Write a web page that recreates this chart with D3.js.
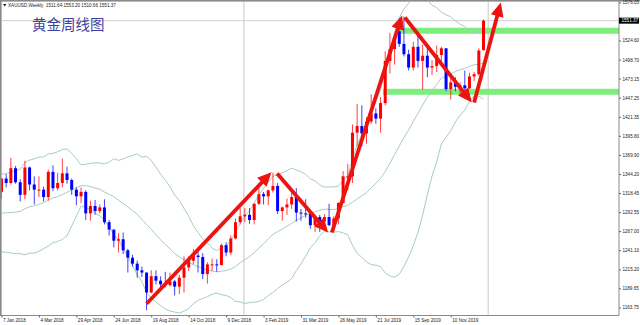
<!DOCTYPE html>
<html><head><meta charset="utf-8">
<script src="https://cdn.jsdelivr.net/npm/d3@7"></script>
<style>html,body{margin:0;padding:0;background:#fff;} svg{display:block;}</style>
</head><body><svg id="c" width="640" height="325"></svg>
<script>
// weekly XAUUSD candles, index 0 = week of 7 Jan 2018 ... index 103 = week of 29 Dec 2019
const opens  = [1320,1338,1332,1352,1333,1316,1353,1330,1322,1323,1313,1347,1325,1332,1345,1336,1323,1314,1320,1291,1301,1294,1299,1279,1269,1254,1256,1241,1231,1223,1214,1211,1184,1206,1200,1195,1194,1199,1192,1204,1218,1227,1234,1232,1209,1221,1222,1221,1248,1238,1257,1279,1287,1289,1282,1304,1317,1314,1322,1328,1294,1299,1303,1313,1292,1291,1290,1275,1286,1280,1286,1275,1284,1305,1341,1341,1400,1409,1399,1415,1426,1419,1440,1497,1513,1537,1520,1506,1488,1516,1497,1504,1488,1490,1505,1514,1459,1468,1462,1464,1460,1476,1479,1511.64];
const highs  = [1338,1344,1366,1355,1337,1362,1354,1341,1341,1327,1350,1356,1346,1365,1354,1338,1326,1326,1322,1308,1309,1303,1310,1282,1269,1264,1265,1243,1235,1227,1219,1211,1214,1214,1206,1212,1211,1201,1208,1233,1233,1243,1243,1237,1225,1230,1229,1250,1252,1261,1284,1298,1298,1298,1304,1326,1320,1323,1346,1332,1300,1311,1320,1325,1297,1310,1292,1289,1289,1290,1304,1287,1306,1348,1358,1411,1439,1437,1421,1452,1433,1448,1510,1535,1531,1555,1557,1512,1523,1535,1519,1516,1498,1518,1516,1514,1474,1475,1468,1484,1481,1482,1514,1553.20];
const lows   = [1311,1326,1330,1331,1307,1310,1322,1303,1313,1307,1308,1321,1322,1326,1331,1316,1302,1305,1282,1281,1289,1291,1276,1261,1245,1238,1236,1211,1219,1204,1205,1160,1183,1195,1189,1191,1192,1180,1182,1184,1213,1222,1211,1202,1196,1213,1212,1221,1233,1235,1256,1276,1279,1277,1276,1302,1303,1302,1319,1290,1281,1289,1297,1280,1281,1285,1270,1266,1266,1278,1274,1268,1276,1305,1322,1332,1382,1381,1385,1412,1412,1400,1437,1480,1492,1516,1503,1484,1484,1488,1458,1475,1478,1482,1491,1456,1445,1456,1452,1458,1459,1470,1477,1510.66];
const closes = [1338,1332,1352,1333,1316,1353,1330,1323,1323,1313,1347,1325,1332,1345,1336,1323,1314,1320,1291,1301,1294,1299,1279,1269,1254,1256,1241,1231,1223,1214,1211,1184,1206,1200,1195,1194,1199,1192,1204,1218,1227,1234,1232,1209,1222,1222,1221,1248,1238,1257,1279,1287,1289,1282,1304,1317,1314,1322,1328,1294,1299,1303,1313,1292,1291,1290,1275,1286,1280,1286,1275,1284,1305,1341,1341,1400,1409,1399,1415,1426,1419,1440,1497,1513,1527,1520,1506,1488,1516,1497,1504,1488,1490,1505,1514,1459,1468,1462,1464,1460,1476,1479,1511,1551.37];

// Bollinger bands (20)
const bbUpper  = [1343.7,1345.0,1346.6,1348.9,1350.7,1359.5,1362.9,1364.7,1366.8,1367.3,1371.4,1372.1,1374.1,1377.2,1378.1,1372.0,1364.7,1356.4,1357.4,1358.6,1359.2,1359.2,1358.0,1360.2,1364.9,1362.5,1364.6,1367.2,1369.0,1371.3,1366.9,1367.9,1362.6,1353.2,1344.1,1335.7,1327.1,1315.7,1308.4,1297.6,1287.3,1274.3,1265.2,1256.3,1250.9,1244.1,1240.6,1244.5,1246.9,1254.1,1266.2,1277.1,1287.5,1294.5,1304.8,1316.1,1324.8,1332.7,1341.0,1343.2,1345.8,1348.7,1352.1,1349.5,1347.3,1343.6,1337.4,1335.0,1329.4,1326.4,1326.7,1326.8,1327.6,1335.3,1341.4,1364.1,1384.2,1397.5,1412.6,1429.3,1442.1,1457.7,1484.7,1510.9,1535.9,1555.2,1567.5,1574.9,1583.5,1586.6,1585.6,1579.3,1572.2,1569.1,1562.7,1559.4,1556.5,1550.9,1546.6,1543.4,1537.3,1533.8,1535.3,1543.6];
const bbMiddle = [1291.4,1291.7,1292.0,1292.7,1293.6,1297.3,1300.1,1301.1,1303.2,1305.3,1309.2,1311.7,1313.6,1316.5,1319.3,1323.0,1325.9,1328.6,1328.3,1327.4,1325.2,1323.5,1319.9,1316.7,1313.6,1308.7,1304.3,1299.7,1294.7,1289.7,1282.9,1275.9,1269.6,1262.3,1255.3,1248.8,1243.1,1236.7,1232.3,1228.2,1224.8,1221.6,1219.2,1216.2,1214.6,1212.9,1211.9,1212.8,1213.5,1215.7,1219.1,1224.2,1228.4,1232.5,1237.9,1244.1,1249.8,1256.3,1262.5,1266.3,1269.9,1273.4,1277.4,1281.6,1285.0,1288.4,1291.1,1293.0,1295.1,1296.6,1296.4,1296.2,1297.0,1300.0,1301.8,1306.0,1310.7,1314.6,1318.9,1325.5,1331.5,1338.4,1347.6,1358.6,1370.4,1381.9,1393.5,1403.6,1415.4,1425.9,1437.4,1447.6,1456.8,1465.0,1473.7,1476.6,1479.6,1482.7,1485.2,1486.9,1489.7,1491.7,1492.4,1494.3];
const bbLower  = [1239.0,1238.4,1237.4,1236.4,1236.5,1235.0,1237.2,1237.4,1239.6,1243.2,1246.9,1251.3,1253.1,1255.7,1260.4,1274.0,1287.0,1300.7,1299.2,1296.1,1291.1,1287.8,1281.7,1273.1,1262.2,1254.9,1243.9,1232.1,1220.3,1208.1,1198.9,1183.8,1176.5,1171.4,1166.4,1161.9,1159.0,1157.6,1156.2,1158.7,1162.3,1168.8,1173.2,1176.1,1178.3,1181.7,1183.2,1181.0,1180.1,1177.2,1171.9,1171.3,1169.2,1170.4,1171.0,1172.0,1174.8,1179.9,1184.0,1189.4,1194.0,1198.0,1202.7,1213.6,1222.7,1233.2,1244.8,1251.0,1260.8,1266.7,1266.0,1265.6,1266.4,1264.6,1262.2,1247.8,1237.2,1231.6,1225.2,1221.7,1220.9,1219.0,1210.4,1206.3,1204.9,1208.6,1219.4,1232.2,1247.2,1265.2,1289.1,1315.8,1341.4,1360.9,1384.6,1393.8,1402.6,1414.5,1423.7,1430.3,1442.1,1449.5,1449.4,1444.9];

const dateTickIdx = [0,8,16,24,32,40,48,56,64,72,80,88,96];
const dateLabels = ["7 Jan 2018","4 Mar 2018","29 Apr 2018","24 Jun 2018","19 Aug 2018","14 Oct 2018","9 Dec 2018","3 Feb 2019","31 Mar 2019","26 May 2019","21 Jul 2019","15 Sep 2019","10 Nov 2019"];
const priceTicks = [1576.05,1524.60,1498.70,1473.15,1447.25,1421.35,1395.80,1369.90,1344.20,1318.45,1292.55,1267.00,1241.10,1215.20,1189.65,1163.75];
const lastPrice = 1551.37;
const headerText = "XAUUSD,Weekly  1511.64 1553.20 1510.66 1551.37";
const titleText = "黄金周线图";

// support / resistance zones: start week index, price range
const zoneStart = [85.1, 81.5];
const zoneLow   = [1533.7, 1451.2];
const zoneHigh  = [1541.8, 1459.3];

// trend arrows: [week index, price] from -> to
const arrowFrom = [[31.0,1168.8],[58.9,1344.9],[70.6,1265.1],[86.2,1555.7],[101.0,1440.8]];
const arrowTo   = [[57.7,1346.6],[69.8,1265.1],[85.6,1558.4],[100.5,1440.8],[106.7,1576.0]];

const separators = [51.8, 104.0];

// ---------------------------------------------------------------
const W = 640, H = 325;
const plotL = 2, plotR = 619, plotT = 2, plotB = 315.5;
const svg = d3.select("#c");
svg.append("rect").attr("width",W).attr("height",H).attr("fill","#fff");

const x = d3.scaleLinear().domain([0,103]).range([1.5,483.5]);
const y = d3.scaleLinear().domain([1163.75,1576.05]).range([307.5,2.4]);

svg.append("clipPath").attr("id","clip").append("rect")
  .attr("x",0).attr("y",plotT).attr("width",plotR).attr("height",plotB-plotT);
const plot = svg.append("g").attr("clip-path","url(#clip)");

// separators and last-price line
plot.selectAll("line.sep").data(separators).join("line")
  .attr("x1",d=>x(d)).attr("x2",d=>x(d)).attr("y1",plotT).attr("y2",plotB)
  .attr("stroke","#c8c8c8").attr("stroke-width",1);
plot.append("line").attr("x1",plotL).attr("x2",plotR)
  .attr("y1",y(lastPrice)).attr("y2",y(lastPrice))
  .attr("stroke","#cfcfcf").attr("stroke-width",1);

// zones
plot.selectAll("rect.zone").data(zoneStart).join("rect")
  .attr("x",d=>x(d)).attr("width",d=>plotR - x(d))
  .attr("y",(d,i)=>y(zoneHigh[i])).attr("height",(d,i)=>y(zoneLow[i])-y(zoneHigh[i]))
  .attr("fill","#7ded7d");

// Bollinger bands
const line = arr => d3.line().x((d,i)=>x(i)).y(d=>y(d))(arr);
[bbUpper,bbMiddle,bbLower].forEach(arr=>{
  plot.append("path").attr("d",line(arr)).attr("fill","none")
    .attr("stroke","#a9cbbf").attr("stroke-width",1);
});

// candles
const idx = d3.range(opens.length);
const col = i => closes[i] >= opens[i] ? "#ff0000" : "#0000ff";
plot.selectAll("line.wick").data(idx).join("line")
  .attr("x1",i=>x(i)).attr("x2",i=>x(i))
  .attr("y1",i=>y(highs[i])).attr("y2",i=>y(lows[i]))
  .attr("stroke",col).attr("stroke-width",1).attr("stroke-opacity",0.75);
plot.selectAll("rect.body").data(idx).join("rect")
  .attr("x",i=>x(i)-1.5).attr("width",3)
  .attr("y",i=>y(Math.max(opens[i],closes[i])))
  .attr("height",i=>Math.max(1,Math.abs(y(opens[i])-y(closes[i]))))
  .attr("fill",col);

// frame
svg.append("rect").attr("x",0).attr("y",0).attr("width",W).attr("height",1.6).attr("fill","#8a8a8a");
svg.append("rect").attr("x",0).attr("y",0).attr("width",1.6).attr("height",plotB).attr("fill","#8a8a8a");
svg.append("line").attr("x1",0).attr("x2",plotR).attr("y1",plotB).attr("y2",plotB).attr("stroke","#8a8a8a");
svg.append("line").attr("x1",plotR).attr("x2",plotR).attr("y1",0).attr("y2",plotB).attr("stroke","#8a8a8a");

// axes
const fontFam = "'Liberation Sans', Arial, sans-serif";
const yAxis = d3.axisRight(y).tickValues(priceTicks).tickFormat(d3.format(".2f")).tickSize(2).tickPadding(1.5);
const gy = svg.append("g").attr("transform",`translate(${plotR},0)`).call(yAxis);
gy.select(".domain").remove();
gy.selectAll("line").attr("stroke","#666");
gy.selectAll("text").attr("font-size",4.6).attr("font-family",fontFam).attr("fill","#222");

const xAxis = d3.axisBottom(x).tickValues(dateTickIdx).tickFormat((d,i)=>dateLabels[i]).tickSize(2).tickPadding(1);
const gx = svg.append("g").attr("transform",`translate(0,${plotB})`).call(xAxis);
gx.select(".domain").remove();
gx.selectAll("line").attr("stroke","#666");
gx.selectAll("text").attr("font-size",4.6).attr("font-family",fontFam).attr("fill","#222")
  .attr("text-anchor","start").attr("dx",1);

// last price label
const lp = svg.append("g").attr("transform",`translate(${plotR},${y(lastPrice)})`);
lp.append("rect").attr("x",0).attr("y",-3).attr("width",20).attr("height",6).attr("fill","#000");
lp.append("text").attr("x",2.5).attr("y",0).attr("dy","0.34em").attr("font-size",4.6)
  .attr("font-family",fontFam).attr("fill","#fff").text(d3.format(".2f")(lastPrice));

// header
svg.append("path").attr("d","M3,4 L6.5,4 L4.75,6.5 Z").attr("fill","#222");
svg.append("text").attr("x",8).attr("y",7).attr("font-size",4.6).attr("font-family",fontFam)
  .attr("fill","#222").attr("xml:space","preserve").text(headerText);

// title
svg.append("text").attr("x",32).attr("y",30).attr("font-size",14.5)
  .attr("font-family","'Noto Sans CJK SC', sans-serif").attr("fill","#3f3f9f").text(titleText);

// arrows
const red = "#ec1410";
arrowFrom.forEach((f,i)=>{
  const t = arrowTo[i];
  const x0 = x(f[0]), y0 = y(f[1]), x1 = x(t[0]), y1 = y(t[1]);
  const dx = x1-x0, dy = y1-y0, len = Math.hypot(dx,dy);
  const ux = dx/len, uy = dy/len, nx = -uy, ny = ux;
  const L = 14, Wd = 6.5;
  const bx = x1-ux*L, by = y1-uy*L;
  svg.append("line").attr("x1",x0).attr("y1",y0).attr("x2",bx+ux*2).attr("y2",by+uy*2)
    .attr("stroke",red).attr("stroke-width",3.8);
  svg.append("path").attr("d",`M${x1},${y1} L${bx+nx*Wd},${by+ny*Wd} L${bx-nx*Wd},${by-ny*Wd} Z`)
    .attr("fill",red);
});
</script></body></html>
